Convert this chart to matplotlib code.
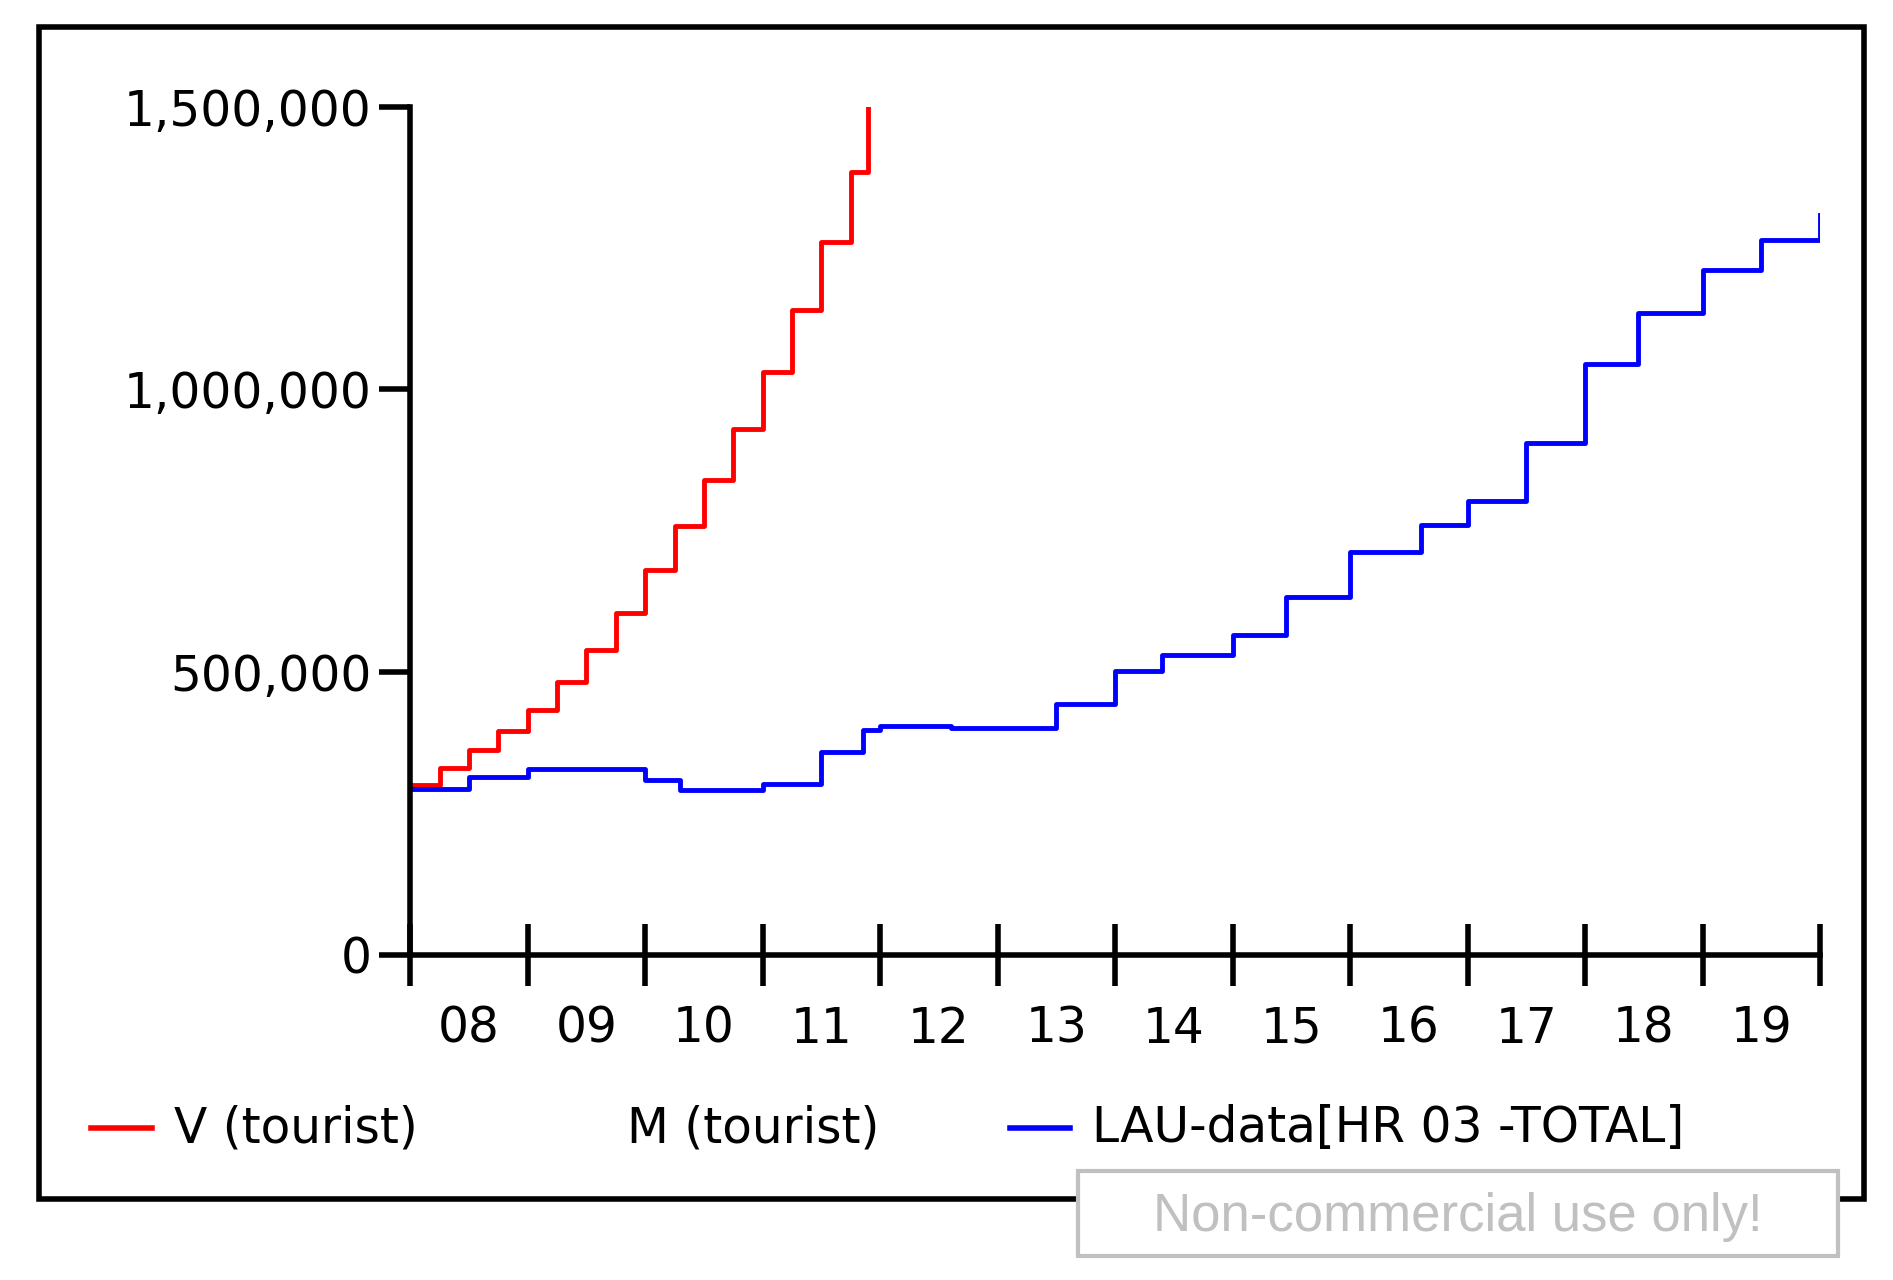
import matplotlib
matplotlib.use("Agg")
import matplotlib.pyplot as plt
from matplotlib.patches import Rectangle
from matplotlib.lines import Line2D

year_labels = ["08","09","10","11","12","13","14","15","16","17","18","19"]
red_t = [0,0.25,0.5,0.75,1,1.25,1.5,1.75,2,2.25,2.5,2.75,3,3.25,3.5,3.75,3.9]
red_v = [300e3,330e3,362e3,396e3,433e3,483e3,540e3,605e3,680e3,758e3,840e3,930e3,1030e3,1140e3,1260e3,1385e3,1500e3]
blue_t = [0,0.5,1,1.45,2,2.3,2.9,3,3.5,3.85,4,4.45,4.6,5.1,5.5,6,6.4,7,7.45,8,8.6,9,9.5,10,10.45,11,11.5,12]
blue_v = [294e3,315e3,328e3,328e3,309e3,292e3,292e3,302e3,358e3,397e3,405e3,405e3,401e3,401e3,444e3,502e3,530e3,566e3,633e3,712e3,760e3,803e3,906e3,1045e3,1135e3,1212e3,1264e3,1309e3]

W, H = 1893, 1280
fig = plt.figure(figsize=(W/100, H/100), dpi=100)
sx, sy = 1893/1560, 1280/1055
def fx(x): return x/1560
def fy(y): return 1 - y/1055

fig.patches.append(Rectangle((fx(32), fy(988)), fx(1536)-fx(32), fy(22)-fy(988),
                             transform=fig.transFigure, fill=False, lw=4, ec="black"))
ax = fig.add_axes([fx(338), fy(787), fx(1500)-fx(338), fy(88)-fy(787)])
ax.plot(red_t, red_v, color="red", lw=3.5, drawstyle="steps-post")
ax.plot(blue_t, blue_v, color="blue", lw=3.5, drawstyle="steps-post")
ax.set_xlim(0, 12)
ax.set_ylim(0, 1.5e6)
for s in ["top", "right"]:
    ax.spines[s].set_visible(False)
for s in ["left", "bottom"]:
    ax.spines[s].set_linewidth(4)
ax.set_yticks([0, 500e3, 1000e3, 1500e3])
ax.set_yticklabels(["0", "500,000", "1,000,000", "1,500,000"], fontsize=35)
ax.tick_params(axis="y", length=22, width=4, pad=6)
ax.set_xticks(range(13))
ax.set_xticklabels([])
ax.tick_params(axis="x", direction="inout", length=44, width=4)
ax.set_xticks([i + 0.5 for i in range(12)], minor=True)
ax.set_xticklabels(year_labels, minor=True, fontsize=35)
ax.tick_params(axis="x", which="minor", length=0, pad=36)

ly = fy(930)
fig.add_artist(Line2D([fx(75), fx(125)], [ly, ly], color="red", lw=4, transform=fig.transFigure))
fig.text(fx(143), ly, "V (tourist)", fontsize=35, va="center")
fig.text(fx(517), ly, "M (tourist)", fontsize=35, va="center")
fig.add_artist(Line2D([fx(832), fx(882)], [ly, ly], color="blue", lw=4, transform=fig.transFigure))
fig.text(fx(900), ly, "LAU-data[HR 03 -TOTAL]", fontsize=35, va="center")

fig.patches.append(Rectangle((fx(888), fy(1035)), fx(1515)-fx(888), fy(965)-fy(1035),
                             transform=fig.transFigure, fill=True, fc="white", lw=3, ec="#c0c0c0"))
fig.text(fx(1201), fy(1003), "Non-commercial use only!", fontsize=38, color="#c0c0c0",
         family="Liberation Sans", ha="center", va="center")

fig.savefig("out.png", dpi=100)
